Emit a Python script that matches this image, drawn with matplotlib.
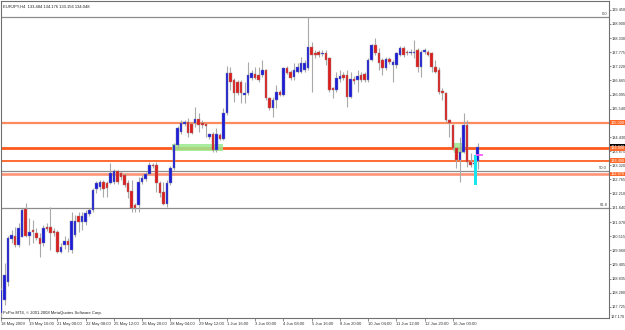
import numpy as np
import matplotlib
matplotlib.use("Agg")
import matplotlib.pyplot as plt
from matplotlib.patches import Rectangle
from matplotlib.transforms import blended_transform_factory

# -----------------------------
# Data (EURJPY H4)
# -----------------------------
symbol = "EURJPY,H4"

opens = [
    127.47, 127.99, 128.70, 130.40, 130.52, 130.16, 130.48, 131.59, 130.52, 130.76,
    130.64, 130.44, 130.24, 130.87, 130.87, 130.72, 130.68, 129.89, 130.16, 130.32,
    129.97, 130.56, 131.31, 131.07, 131.07, 131.39, 131.55, 132.38, 132.45, 132.65,
    132.61, 132.61, 132.65, 133.09, 133.01, 132.93, 132.61, 132.30, 131.74, 131.74,
    132.65, 132.77, 132.97, 133.32, 133.32, 132.61, 132.26, 131.78, 132.61, 133.21,
    134.12, 134.63, 134.94, 135.02, 134.94, 134.98, 135.14, 134.98, 134.94, 134.43,
    134.55, 133.92, 134.51, 134.35, 135.38, 136.96, 136.68, 136.60, 136.60, 136.09,
    136.17, 136.76, 136.92, 136.88, 136.88, 137.08, 135.97, 135.58, 135.89, 136.21,
    136.09, 137.16, 137.00, 136.80, 137.00, 137.00, 137.08, 137.16, 137.99, 137.75,
    137.79, 137.71, 137.75, 137.55, 136.37, 136.29, 136.72, 136.88, 136.88, 136.01,
    136.72, 136.68, 136.88, 136.92, 136.68, 137.47, 138.07, 137.75, 137.47, 137.16,
    137.51, 137.28, 137.28, 137.67, 137.95, 137.79, 137.75, 137.75, 137.87, 137.20,
    137.79, 137.79, 137.75, 137.20, 137.08, 136.25, 136.17, 135.10, 134.90, 134.00,
    133.52, 133.84, 134.90, 133.44, 133.36, 133.484,
]
highs = [
    128.46, 129.45, 130.52, 130.76, 130.87, 131.03, 131.63, 131.82, 131.23, 131.15,
    130.83, 130.64, 130.95, 131.03, 131.66, 130.83, 130.76, 130.24, 130.52, 130.44,
    131.47, 131.35, 131.47, 131.47, 131.55, 131.63, 132.42, 132.69, 132.73, 132.73,
    132.69, 133.40, 133.17, 133.13, 133.09, 133.01, 132.73, 132.73, 131.82, 132.85,
    132.93, 133.05, 133.44, 133.40, 133.44, 132.69, 132.65, 132.73, 133.28, 134.19,
    134.87, 135.10, 135.10, 135.18, 135.02, 135.62, 135.38, 135.10, 134.98, 134.59,
    134.63, 134.79, 134.59, 135.58, 137.24, 137.20, 136.76, 136.68, 136.68, 136.60,
    137.39, 137.08, 137.20, 137.20, 137.47, 137.12, 136.01, 136.01, 136.49, 136.29,
    137.20, 137.24, 137.08, 137.36, 137.36, 137.59, 137.47, 139.17, 138.19, 137.87,
    137.87, 137.87, 137.87, 137.59, 136.41, 137.00, 137.08, 137.00, 137.08, 137.00,
    136.84, 137.08, 137.00, 137.00, 137.55, 138.11, 138.34, 137.95, 137.55, 137.59,
    137.59, 137.47, 137.79, 138.03, 138.03, 137.87, 137.91, 138.26, 137.95, 137.87,
    137.95, 137.87, 137.79, 137.47, 137.20, 136.37, 136.21, 135.14, 134.94, 134.04,
    134.43, 135.38, 135.10, 133.80, 133.72, 134.176,
]
lows = [
    127.32, 127.79, 128.54, 130.24, 130.08, 130.08, 130.48, 130.48, 130.16, 130.24,
    130.36, 129.69, 130.12, 130.72, 129.97, 130.52, 129.85, 129.85, 130.01, 129.89,
    129.85, 130.48, 130.68, 130.76, 130.95, 131.31, 131.47, 132.22, 132.34, 132.06,
    132.06, 132.57, 132.57, 132.57, 132.73, 132.45, 132.02, 131.47, 131.47, 131.47,
    132.57, 132.69, 132.93, 133.21, 132.26, 132.06, 131.74, 131.66, 132.53, 133.13,
    134.00, 134.55, 134.87, 134.43, 134.55, 134.83, 134.63, 134.79, 134.43, 134.35,
    133.84, 133.84, 134.31, 134.31, 135.30, 136.29, 135.81, 136.09, 135.77, 135.77,
    136.09, 136.68, 136.72, 136.60, 136.80, 135.89, 135.50, 135.22, 135.58, 136.05,
    136.05, 136.92, 136.68, 136.68, 136.96, 136.96, 137.00, 137.08, 136.21, 137.55,
    137.59, 137.63, 137.28, 136.21, 135.97, 136.21, 136.60, 136.68, 135.62, 135.97,
    136.52, 136.21, 136.60, 136.60, 136.60, 137.43, 137.67, 137.08, 136.88, 137.08,
    137.32, 136.60, 137.16, 137.63, 137.59, 137.67, 137.67, 137.55, 137.00, 136.80,
    137.71, 137.63, 137.00, 136.96, 136.13, 135.89, 135.02, 134.43, 133.92, 133.21,
    132.65, 133.80, 133.25, 133.25, 133.25, 133.156,
]
closes = [
    128.38, 128.98, 130.44, 130.56, 130.16, 130.83, 131.55, 130.52, 130.68, 130.68,
    130.44, 130.20, 130.83, 130.79, 130.64, 130.64, 129.89, 130.08, 130.32, 130.16,
    131.11, 131.11, 131.07, 131.31, 131.43, 131.55, 132.34, 132.61, 132.65, 132.38,
    132.42, 133.01, 133.09, 132.65, 132.85, 132.53, 132.26, 131.63, 131.63, 132.65,
    132.81, 132.97, 133.32, 133.28, 132.61, 132.22, 131.78, 132.61, 133.21, 134.12,
    134.79, 134.98, 135.02, 134.59, 134.59, 135.14, 134.90, 134.90, 134.87, 134.55,
    133.92, 134.55, 134.35, 135.38, 136.96, 136.60, 136.17, 136.17, 136.17, 136.17,
    136.88, 136.96, 136.76, 136.68, 137.08, 135.97, 135.58, 135.89, 136.21, 136.09,
    137.16, 136.96, 136.76, 137.08, 137.20, 137.36, 137.36, 137.99, 137.67, 137.67,
    137.67, 137.75, 137.47, 136.29, 136.29, 136.76, 136.84, 136.76, 136.01, 136.72,
    136.64, 136.84, 136.68, 136.68, 137.47, 138.07, 137.75, 137.36, 137.16, 137.51,
    137.39, 137.39, 137.75, 137.95, 137.67, 137.75, 137.79, 137.79, 137.20, 137.79,
    137.87, 137.67, 137.20, 137.00, 136.21, 136.17, 135.10, 134.98, 134.00, 133.52,
    133.84, 134.90, 133.44, 133.32, 133.40, 134.048,
]

# time axis labels, one every 8 bars
x_labels = ["18 May 2009", "19 May 16:00", "21 May 00:00", "22 May 08:00",
            "25 May 12:00", "26 May 20:00", "28 May 04:00", "29 May 12:00",
            "1 Jun 16:00", "3 Jun 00:00", "4 Jun 08:00", "5 Jun 16:00",
            "8 Jun 20:00", "10 Jun 04:00", "11 Jun 12:00", "12 Jun 20:00",
            "16 Jun 00:00"]

# price scale labels (134.985 sits under a line label box)
y_ticks = [139.450, 138.900, 138.330, 137.775, 137.220, 136.665, 136.095,
           135.540, 134.985, 134.430, 133.875, 133.320, 132.765, 132.210,
           131.640, 131.070, 130.515, 129.960, 129.405, 128.835, 128.280,
           127.725]
y_hidden = [134.985]
y_bottom_label = "127.170"

# fibonacci levels
fib_prices = [139.17, 133.07, 131.64]
fib_names = ["0.0", "50.0", "61.8"]

# support / resistance lines
sr_prices = [135.000, 133.990, 133.490, 132.970]

# highlighted zones (bar from, bar to, price low, price high)
green_zones = [(48.4, 62.9, 133.89, 134.16), (128.2, 131.5, 133.79, 134.18)]
cyan_zone = (134.1, 134.9, 132.53, 133.72)
magenta_seg = (134.8, 136.2, 133.72)

# -----------------------------
# Figure
# -----------------------------
plt.rcParams["font.family"] = ["Liberation Sans", "DejaVu Sans"]
FS = 3.0
FS_Y = 2.8

fig = plt.figure(figsize=(6.25, 3.3), dpi=100)
ax = fig.add_axes([0.5 / 625, 12 / 330, 608.5 / 625, 317 / 330])

o = np.array(opens)
h = np.array(highs)
l = np.array(lows)
c = np.array(closes)
idx = np.arange(len(o))
up = c >= o

# candles
ax.vlines(idx, l, h, color="#a9a9a9", lw=0.8, zorder=3)
body_low = np.minimum(o, c)
body_h = np.maximum(np.abs(c - o), 0.025)
ax.bar(idx[up], body_h[up], bottom=body_low[up], width=0.72,
       color="#1c1cd9", edgecolor="#8080a0", lw=0.3, zorder=4)
ax.bar(idx[~up], body_h[~up], bottom=body_low[~up], width=0.72,
       color="#dd1e1e", edgecolor="#a08080", lw=0.3, zorder=4)

# zones
for x0, x1, p0, p1 in green_zones:
    ax.add_patch(Rectangle((x0, p0), x1 - x0, p1 - p0, color="#9be98c",
                           alpha=0.85, lw=0, zorder=2))
x0, x1, p0, p1 = cyan_zone
ax.add_patch(Rectangle((x0, p0), x1 - x0, p1 - p0, color="#19e6ef",
                       lw=0, zorder=5))
ax.plot([magenta_seg[0], magenta_seg[1]], [magenta_seg[2], magenta_seg[2]],
        color="#ff55ff", lw=1.3, zorder=6)

# horizontal lines
sr_colors = ["#ff8a5c", "#ff5a1e", "#ff6a32", "#ff9576"]
sr_widths = [1.6, 2.0, 1.4, 1.9]
for p, col, lw in zip(sr_prices, sr_colors, sr_widths):
    ax.axhline(p, color=col, lw=lw, zorder=1)

for p, name in zip(fib_prices, fib_names):
    ax.axhline(p, color="#8c8c8c", lw=0.9, zorder=1)
    ax.text(171.7, p + 0.04, name, fontsize=FS, ha="right", va="bottom",
            color="#404040")

# -----------------------------
# Axes
# -----------------------------
ax.set_xlim(-0.14, 172.2)
ax.set_ylim(127.28, 139.805)

ax.set_xticks(np.arange(0, 8 * len(x_labels), 8))
ax.set_xticklabels(x_labels, ha="left")
ax.yaxis.tick_right()
ax.set_yticks(y_ticks)
ax.set_yticklabels(["" if v in y_hidden else f"{v:.3f}" for v in y_ticks])
ax.tick_params(axis="both", length=2, width=0.5, color="#606060",
               labelcolor="#303030", pad=0.8)
ax.tick_params(axis="x", labelsize=FS)
ax.tick_params(axis="y", labelsize=FS_Y, length=1.5, pad=0.5)
for s in ax.spines.values():
    s.set_color("#707070")
    s.set_linewidth(0.8)

tr = blended_transform_factory(ax.transAxes, ax.transData)
ax.text(1.002, ax.get_ylim()[0] + 0.03, y_bottom_label, transform=tr,
        fontsize=FS_Y, ha="left", va="center", color="#303030", clip_on=False)

# current price + line price boxes on the scale
ax.text(1.002, closes[-1], f"{closes[-1]:.3f}", transform=tr, fontsize=FS_Y,
        ha="left", va="center", color="white", clip_on=False,
        bbox=dict(boxstyle="square,pad=0.1", fc="black", ec="none"))
for p in sr_prices:
    ax.text(1.002, p, f"{p:.3f}", transform=tr, fontsize=FS_Y, ha="left",
            va="center", color="white", clip_on=False,
            bbox=dict(boxstyle="square,pad=0.1", fc="#ff6a2a", ec="none"))

# header and footer
header = f"{symbol}  {opens[-1]:.3f} {highs[-1]:.3f} {lows[-1]:.3f} {closes[-1]:.3f}"
ax.text(0.004, 0.984, header, transform=ax.transAxes, fontsize=FS,
        ha="left", va="center", color="#202020")
ax.text(0.004, 0.016, "PxPro MT4, \u00a9 2001-2008 MetaQuotes Software Corp.",
        transform=ax.transAxes, fontsize=FS, ha="left", va="center",
        color="#202020")

fig.savefig("out.png", dpi=100)
